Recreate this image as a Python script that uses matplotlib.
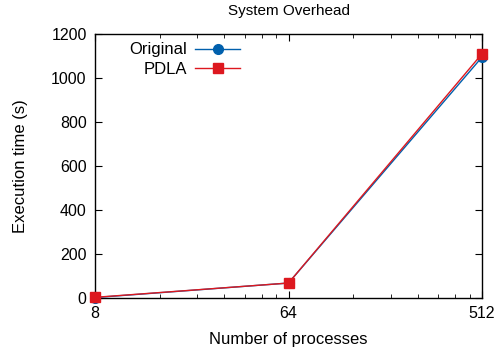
import matplotlib
matplotlib.use("Agg")
import matplotlib.pyplot as plt
from matplotlib.ticker import FixedLocator, NullFormatter

plt.rcParams['font.family'] = ['Liberation Sans', 'DejaVu Sans']

# data
procs = [8, 64, 512]
original = [2, 68, 1095]
pdla = [3, 68, 1110]
xticks = [8, 64, 512]
xminor = [16, 24, 32, 40, 48, 56, 128, 192, 256, 320, 384, 448]
yticks = [0, 200, 400, 600, 800, 1000, 1200]

fig = plt.figure(figsize=(4.99, 3.58), dpi=100)
ax = fig.add_axes([95/499, 60/358, 387/499, 264/358])

ax.plot(procs, original, color='#0060ad', lw=1, marker='o', ms=7,
        label='Original', clip_on=False, zorder=3)
ax.plot(procs, pdla, color='#dd181f', lw=1, marker='s', ms=7,
        label='PDLA', clip_on=False, zorder=4)

ax.set_xscale('log', base=2)
ax.set_xlim(8, 512)
ax.set_ylim(0, 1200)
ax.xaxis.set_major_locator(FixedLocator(xticks))
ax.xaxis.set_minor_locator(FixedLocator(xminor))
ax.xaxis.set_minor_formatter(NullFormatter())
ax.set_xticklabels([str(v) for v in xticks])
ax.set_yticks(yticks)

ax.tick_params(which='both', direction='in', top=True, right=True,
               labelsize=11.5, pad=6)
ax.tick_params(which='major', length=5)
ax.tick_params(which='minor', length=3)
for s in ax.spines.values():
    s.set_linewidth(1)

ax.set_title('System Overhead', fontsize=11, pad=14)
ax.set_xlabel('Number of processes', fontsize=12, labelpad=8)
ax.set_ylabel('Execution time (s)', fontsize=12, labelpad=17)

ax.legend(loc='upper left', bbox_to_anchor=(0.05, 1.025), frameon=False,
          markerfirst=False, fontsize=12, handlelength=2.7,
          handletextpad=0.5, labelspacing=0.25)

fig.savefig('out.png', dpi=100)
